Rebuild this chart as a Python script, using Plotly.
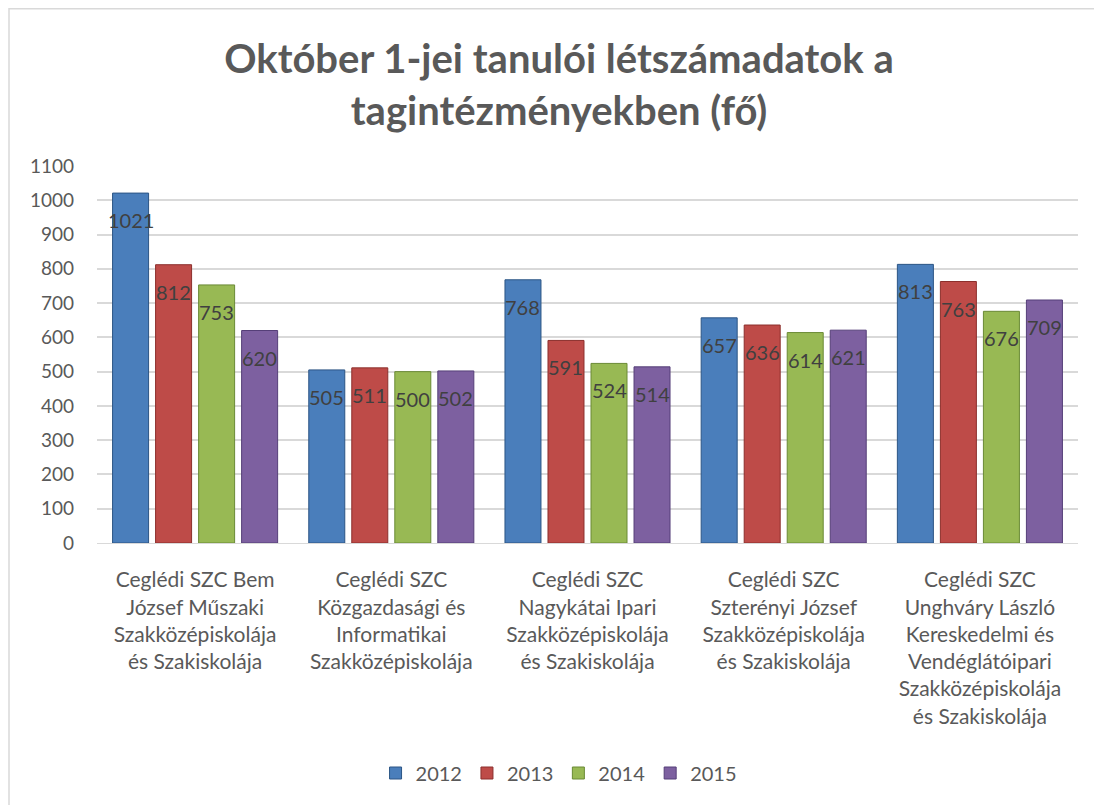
import plotly.graph_objects as go

categories = [
    "Ceglédi SZC Bem<br>József Műszaki<br>Szakközépiskolája<br>és Szakiskolája",
    "Ceglédi SZC<br>Közgazdasági és<br>Informatikai<br>Szakközépiskolája",
    "Ceglédi SZC<br>Nagykátai Ipari<br>Szakközépiskolája<br>és Szakiskolája",
    "Ceglédi SZC<br>Szterényi József<br>Szakközépiskolája<br>és Szakiskolája",
    "Ceglédi SZC<br>Unghváry László<br>Kereskedelmi és<br>Vendéglátóipari<br>Szakközépiskolája<br>és Szakiskolája",
]
series_names = ["2012", "2013", "2014", "2015"]
v2012 = [1021, 505, 768, 657, 813]
v2013 = [812, 511, 591, 636, 763]
v2014 = [753, 500, 524, 614, 676]
v2015 = [620, 502, 514, 621, 709]
series_values = [v2012, v2013, v2014, v2015]
y_ticks = list(range(0, 1101, 100))

colors = ["#4A7EBB", "#BE4B48", "#98B954", "#7D60A0"]
edges = ["#2C5585", "#8C2F2C", "#6A8A35", "#553F78"]

FONT = "Lato, Carlito, sans-serif"
W, H = 1102, 805
ml, mr, mt, mb = 89, 32, 158, 270
pw, ph = W - ml - mr, H - mt - mb

fig = go.Figure()
for name, vals, c, e in zip(series_names, series_values, colors, edges):
    fig.add_trace(go.Bar(
        name=name, x=categories, y=vals,
        marker=dict(color=c, line=dict(color=e, width=1)),
    ))

bargap = 0.123
slot = pw / len(categories) * (1 - bargap) / len(series_names)
annotations = []
for i, vals in enumerate(series_values):
    for cat, v in zip(categories, vals):
        annotations.append(dict(
            x=cat, y=v, xref="x", yref="y", text=str(v), showarrow=False,
            xshift=(i - 1.5) * slot, yshift=-27, yanchor="middle",
            font=dict(family=FONT, size=20, color="#404040"),
        ))

fpx = lambda px: (px - ml) / pw
fpy = lambda py: 1 - (py - mt) / ph
shapes = [dict(type="rect", xref="paper", yref="paper",
               x0=fpx(1), x1=fpx(W + 20), y0=fpy(H + 20), y1=fpy(0.8),
               line=dict(color="#D9D9D9", width=1.5), layer="below")]

fig.update_layout(
    width=W, height=H,
    margin=dict(l=ml, r=mr, t=mt, b=mb),
    paper_bgcolor="white", plot_bgcolor="white",
    barmode="group", bargap=bargap, bargroupgap=0.163,
    title=dict(
        text="<b>Október 1-jei tanulói létszámadatok a<br>tagintézményekben (fő)</b>",
        x=0.5, xanchor="center", y=1 - 65 / H, yanchor="top",
        font=dict(family=FONT, size=40, color="#595959"),
    ),
    font=dict(family=FONT, size=18, color="#595959"),
    xaxis=dict(showgrid=False, showline=True, linecolor="#D9D9D9", linewidth=1,
               ticks="", ticklabelstandoff=18, tickfont=dict(size=21, color="#595959")),
    yaxis=dict(range=[0, 1100], tickvals=y_ticks, showgrid=True, gridcolor="#D9D9D9",
               gridwidth=1.5, zeroline=False, showline=False, ticks="",
               ticklabelstandoff=22, tickfont=dict(size=19, color="#595959")),
    legend=dict(orientation="h", x=0.471, xanchor="center", y=fpy(765), yanchor="middle",
                font=dict(size=20, color="#595959"), itemwidth=30, traceorder="normal"),
    annotations=annotations,
    shapes=shapes,
)

fig.write_html("out.html")
